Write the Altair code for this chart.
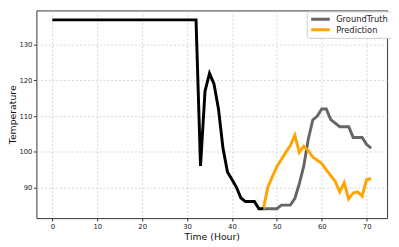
import altair as alt
import pandas as pd

hist_t = list(range(0, 48))
hist_v = [137]*33 + [96, 117, 122, 119, 112, 101, 94.3, 92.2, 90, 87, 86, 86, 86, 84, 84]
fut_t = list(range(47, 72))
gt_v = [84, 84, 84, 84, 85, 85, 85, 86.8, 91, 96, 103.5, 108.9, 110, 112, 112, 109, 108, 107, 107, 107, 104, 104, 104, 102, 101]
pred_v = [84, 90, 93, 95.8, 97.8, 99.8, 101.7, 104.6, 99.8, 101.5, 100.3, 98.5, 97.6, 96.7, 94.9, 93.3, 91.7, 88.7, 91.3, 86.7, 88.4, 88.7, 87.5, 92.2, 92.4]

hist_df = pd.DataFrame({"t": hist_t, "v": hist_v})
fut_df = pd.concat([
    pd.DataFrame({"t": fut_t, "v": gt_v, "s": "GroundTruth"}),
    pd.DataFrame({"t": fut_t, "v": pred_v, "s": "Prediction"}),
])

xs = alt.Scale(domain=[-3.55, 74.55], nice=False, zero=False)
ys = alt.Scale(domain=[81.35, 139.65], nice=False, zero=False)
xax = alt.Axis(values=[0, 10, 20, 30, 40, 50, 60, 70], title="Time (Hour)")
yax = alt.Axis(values=[90, 100, 110, 120, 130], title="Temperature")

fut = alt.Chart(fut_df).mark_line(strokeWidth=3).encode(
    x=alt.X("t:Q", scale=xs, axis=xax),
    y=alt.Y("v:Q", scale=ys, axis=yax),
    color=alt.Color("s:N", scale=alt.Scale(domain=["GroundTruth", "Prediction"], range=["#666666", "#FFA500"]),
                    legend=alt.Legend(title=None, orient="none", legendX=276, legendY=1,
                                      symbolType="stroke", symbolStrokeWidth=3, symbolSize=361,
                                      clipHeight=10, labelOffset=5,
                                      labelFontSize=8.5, labelFont="DejaVu Sans", labelColor="#222",
                                      strokeColor="#cccccc", fillColor="white", padding=3,
                                      cornerRadius=2, rowPadding=0.7)),
)
hist = alt.Chart(hist_df).mark_line(color="black", strokeWidth=3).encode(
    x=alt.X("t:Q", scale=xs, axis=xax),
    y=alt.Y("v:Q", scale=ys, axis=yax),
)

chart = alt.layer(fut, hist).properties(
    width=358, height=212,
    autosize=alt.AutoSizeParams(type="none"),
    padding={"left": 29, "top": 0, "right": 4, "bottom": 27},
).configure_view(
    stroke="#333333", strokeWidth=1
).configure_axis(
    grid=True, gridColor="#cccccc", gridDash=[2, 2], gridWidth=0.8,
    domain=False, tickColor="#333", tickSize=3,
    labelFont="DejaVu Sans", labelFontSize=7, labelColor="#222",
    titleFont="DejaVu Sans", titleFontSize=9.5, titleFontWeight="normal", titleColor="#111",
).configure_axisX(titlePadding=2, labelPadding=2).configure_axisY(titlePadding=1, labelPadding=1.5)

chart.save("out.html", embed_options={"renderer": "svg", "actions": False})
